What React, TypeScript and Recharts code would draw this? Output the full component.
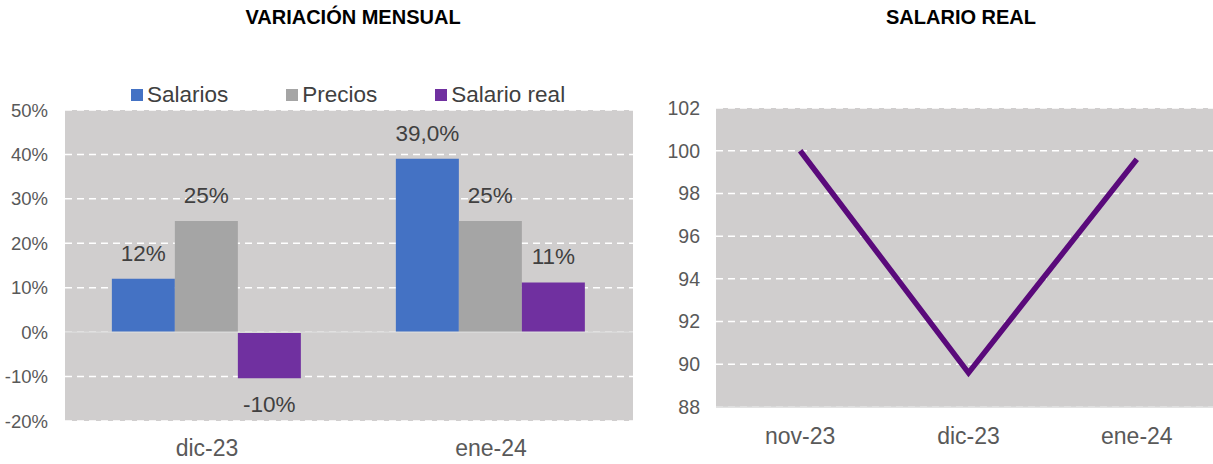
import React from 'react'
import {
  BarChart, Bar, LineChart, Line, XAxis, YAxis, CartesianGrid,
  Legend, LabelList, ReferenceLine,
} from 'recharts'

const months = ['dic-23', 'ene-24']
const salarios = [12, 39]
const precios = [25, 25]
const salarioReal = [-10.4, 11.2]
const salariosLabels = ['12%', '39,0%']
const preciosLabels = ['25%', '25%']
const salarioRealLabels = ['-10%', '11%']
const pctTicks = [-20, -10, 0, 10, 20, 30, 40, 50]

const indexMonths = ['nov-23', 'dic-23', 'ene-24']
const indexValues = [100, 89.6, 99.6]
const indexTicks = [88, 90, 92, 94, 96, 98, 100, 102]

const SERIES = [
  { key: 'salarios', label: 'salariosLbl', name: 'Salarios', color: '#4472C4' },
  { key: 'precios', label: 'preciosLbl', name: 'Precios', color: '#A5A5A5' },
  { key: 'real', label: 'realLbl', name: 'Salario real', color: '#7030A0' },
]

const FONT = '"Liberation Sans", Arial, sans-serif'
const BG = '#D0CECE'
const AXIS_TEXT = '#595959'
const LABEL_TEXT = '#404040'

const barData = months.map((m, i) => ({
  mes: m,
  salarios: salarios[i],
  precios: precios[i],
  real: salarioReal[i],
  salariosLbl: salariosLabels[i],
  preciosLbl: preciosLabels[i],
  realLbl: salarioRealLabels[i],
}))

const lineData = indexMonths.map((m, i) => ({ mes: m, valor: indexValues[i] }))

// own legend so the order follows SERIES
const renderLegend = () => (
  <div style={{ display: 'flex', gap: 58, fontSize: 22.5, color: LABEL_TEXT, fontFamily: FONT, lineHeight: '24px' }}>
    {SERIES.map((s) => (
      <span key={s.key} style={{ display: 'flex', alignItems: 'center' }}>
        <span style={{ display: 'inline-block', width: 12, height: 12, background: s.color, marginRight: 4 }} />
        {s.name}
      </span>
    ))}
  </div>
)

const titleStyle: React.CSSProperties = {
  position: 'absolute', top: 6, fontFamily: FONT, fontWeight: 'bold',
  fontSize: 20, color: '#000', textAlign: 'center', width: 400,
}

const labelStyle = { fontSize: 22.5, fill: LABEL_TEXT, fontFamily: FONT }

export default function App() {
  return (
    <div style={{ position: 'fixed', left: 0, top: 0, width: 1213, height: 464, overflow: 'hidden', background: '#fff', fontFamily: FONT }}>
      <div style={{ ...titleStyle, left: 153 }}>VARIACIÓN MENSUAL</div>
      <div style={{ ...titleStyle, left: 761 }}>SALARIO REAL</div>

      <div style={{ position: 'absolute', left: 0, top: 0 }}>
        <BarChart width={640} height={464} data={barData}
          margin={{ top: 110, right: 7, left: 0, bottom: 0 }}
          barCategoryGap="16.5%" barGap={0}>
          <CartesianGrid vertical={false} fill={BG} stroke="#FFFFFF" strokeWidth={1.5} strokeDasharray="7 5" />
          <XAxis dataKey="mes" axisLine={false} tickLine={false} height={43} tickMargin={13}
            tick={{ fontSize: 23, fill: AXIS_TEXT, fontFamily: FONT }} />
          <YAxis width={65} domain={[-20, 50]} ticks={pctTicks} axisLine={false} tickLine={false}
            tickMargin={11} tickFormatter={(v) => `${v}%`} interval={0}
            tick={{ fontSize: 18.5, fill: AXIS_TEXT, fontFamily: FONT }} />
          <ReferenceLine y={0} stroke="#D9D9D9" strokeWidth={1.5} />
          <Legend verticalAlign="middle" align="center" content={renderLegend}
            wrapperStyle={{ top: 83, left: 131, width: 'auto' }} />
          {SERIES.map((s) => (
            <Bar key={s.key} dataKey={s.key} name={s.name} fill={s.color} isAnimationActive={false}>
              <LabelList dataKey={s.label} position="top" offset={18} style={labelStyle} />
            </Bar>
          ))}
        </BarChart>
      </div>

      <div style={{ position: 'absolute', left: 640, top: 0 }}>
        <LineChart width={600} height={464} data={lineData}
          margin={{ top: 108, right: 19, left: 0, bottom: 0 }}>
          <CartesianGrid vertical={false} fill={BG} stroke="#FFFFFF" strokeWidth={1.5} strokeDasharray="7 5" />
          <XAxis dataKey="mes" scale="band" axisLine={{ stroke: '#D9D9D9', strokeWidth: 1.5 }} tickLine={false}
            height={57} tickMargin={15} tick={{ fontSize: 23, fill: AXIS_TEXT, fontFamily: FONT }} />
          <YAxis width={76} domain={[88, 102]} ticks={indexTicks} axisLine={false} tickLine={false}
            tickMargin={10} interval={0} tick={{ fontSize: 19.5, fill: AXIS_TEXT, fontFamily: FONT }} />
          <Line dataKey="valor" type="linear" stroke="#5A0A7B" strokeWidth={5.5} dot={false}
            isAnimationActive={false} />
        </LineChart>
      </div>
    </div>
  )
}
